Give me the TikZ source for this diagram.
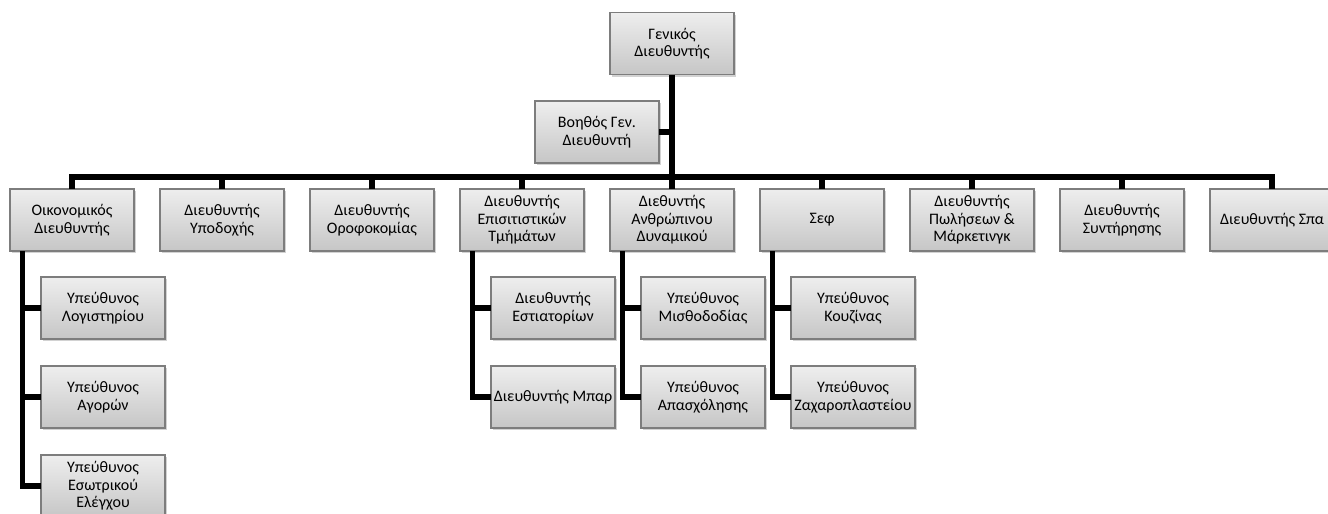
\documentclass[tikz,border=0pt]{standalone}
\usepackage{fontspec}
\setmainfont{Carlito}
\usetikzlibrary{positioning, calc, shadows}

\definecolor{boxtop}{RGB}{238,238,238}
\definecolor{boxbot}{RGB}{198,198,198}
\definecolor{boxline}{RGB}{125,125,125}

\begin{document}
\begin{tikzpicture}[
        x=0.75pt, y=-0.75pt,
        node distance=19.5pt and 19.5pt,
        role/.style={rectangle, draw=boxline, line width=0.8pt, outer sep=0pt, top color=boxtop, bottom color=boxbot, align=center, minimum width=93pt, minimum height=46.5pt, inner sep=1pt, font=\fontsize{12}{13.2}\selectfont, drop shadow={shadow xshift=1.6pt, shadow yshift=-1.6pt, opacity=0.25, fill=black!70}},
        link/.style={line width=4.2pt, black}
    ]
        \useasboundingbox (0,0) rectangle (1328,514);

        \node[role] (gm) at (672,43.5) {Γενικός\\Διευθυντής};
        \node[role] (bod) at (597,132) {Βοηθός Γεν.\\Διευθυντή};

        % second level
        \node[role] (oik) at (72,220) {Οικονομικός\\Διευθυντής};
        \node[role, right=of oik] (ypo) {Διευθυντής\\Υποδοχής};
        \node[role, right=of ypo] (oro) {Διευθυντής\\Οροφοκομίας};
        \node[role, right=of oro] (epi) {Διευθυντής\\Επισιτιστικών\\Τμήμάτων};
        \node[role, right=of epi] (anth) {Διεθυντής\\Ανθρώπινου\\Δυναμικού};
        \node[role, right=of anth] (sef) {Σεφ};
        \node[role, right=of sef] (pol) {Διευθυντής\\Πωλήσεων \&\\Μάρκετινγκ};
        \node[role, right=of pol] (syn) {Διευθυντής\\Συντήρησης};
        \node[role, right=of syn] (spa) {Διευθυντής Σπα};

        % third level
        \node[role, anchor=north west] (lg) at ($(oik.south west)+(31,26)$) {Υπεύθυνος\\Λογιστηρίου};
        \node[role, below=20.25pt of lg] (ag) {Υπεύθυνος\\Αγορών};
        \node[role, below=20.25pt of ag] (ese) {Υπεύθυνος\\Εσωτρικού\\Ελέγχου};
        \node[role, anchor=north west] (est) at ($(epi.south west)+(31,26)$) {Διευθυντής\\Εστιατορίων};
        \node[role, below=20.25pt of est] (mpar) {Διευθυντής Μπαρ};
        \node[role, anchor=north west] (mis) at ($(anth.south west)+(31,26)$) {Υπεύθυνος\\Μισθοδοδίας};
        \node[role, below=20.25pt of mis] (apa) {Υπεύθυνος\\Απασχόλησης};
        \node[role, anchor=north west] (kouz) at ($(sef.south west)+(31,26)$) {Υπεύθυνος\\Κουζίνας};
        \node[role, below=20.25pt of kouz] (zax) {Υπεύθυνος\\Ζαχαροπλαστείου};

        \coordinate (junc) at (672,177);
        \draw[link] (gm.south) -- (anth.north);
        \draw[link] (bod.east) -- (bod.east -| gm.south);
        \foreach \n in {oik,ypo,oro,epi,sef,pol,syn,spa}
            \draw[link] (junc) -| (\n.north);

        \foreach \p/\a/\b in {oik/lg/ag, oik/ese/ese, epi/est/mpar, anth/mis/apa, sef/kouz/zax} {
            \draw[link] ([xshift=9.4pt]\p.south west) |- (\a.west);
            \draw[link] ([xshift=9.4pt]\p.south west) |- (\b.west);
        }
    \end{tikzpicture}
\end{document}
